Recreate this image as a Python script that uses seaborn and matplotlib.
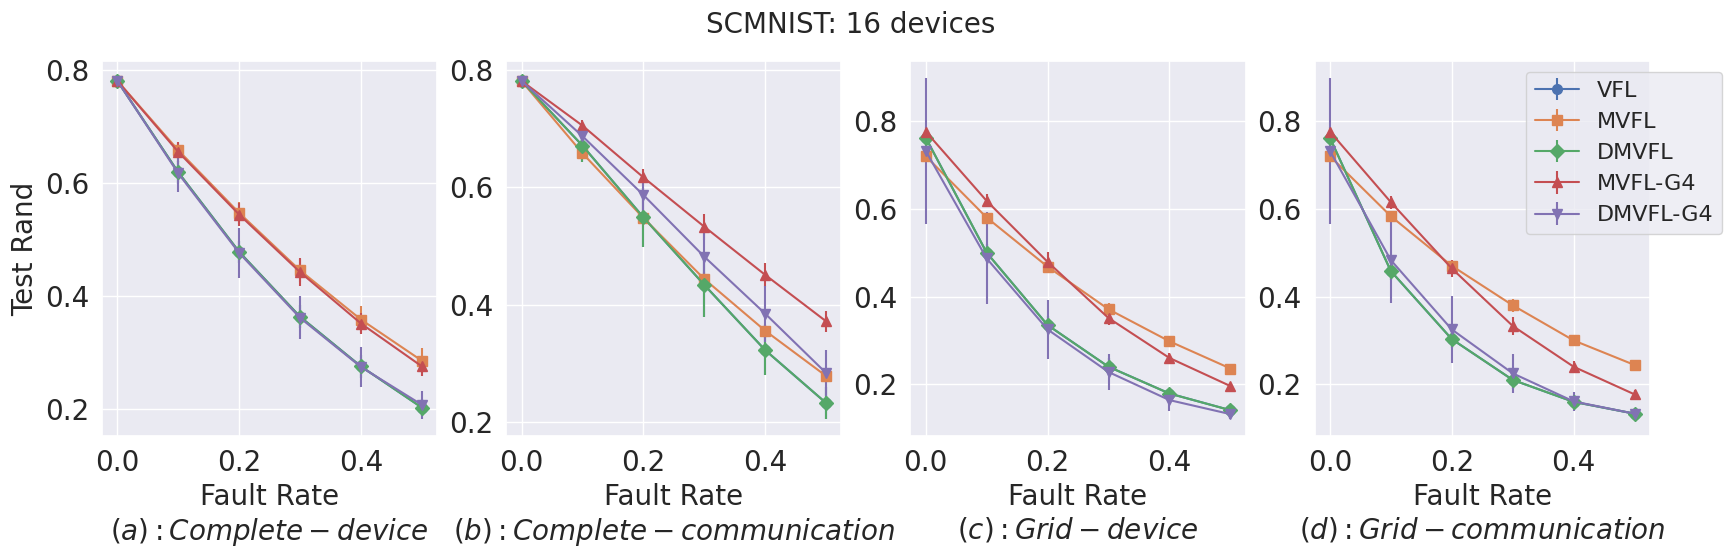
import numpy as np
import pandas as pd
import seaborn as sns
import matplotlib.pyplot as plt

# fault rates on the x axis
fault_rate = [0.0, 0.1, 0.2, 0.3, 0.4, 0.5]
methods = ["VFL", "MVFL", "DMVFL", "MVFL-G4", "DMVFL-G4"]
markers = ["o", "s", "D", "^", "v"]
panel_names = ["$(a): Complete-device$", "$(b): Complete-communication$",
               "$(c): Grid-device$", "$(d): Grid-communication$"]

# (a) complete - device
a_vfl = [0.781, 0.619, 0.478, 0.363, 0.275, 0.202]
a_vfl_err = [0.005, 0.02, 0.02, 0.02, 0.02, 0.015]
a_mvfl = [0.781, 0.658, 0.547, 0.445, 0.358, 0.285]
a_mvfl_err = [0.005, 0.012, 0.02, 0.02, 0.024, 0.022]
a_dmvfl = [0.781, 0.619, 0.478, 0.363, 0.275, 0.202]
a_dmvfl_err = [0.005, 0.02, 0.02, 0.02, 0.02, 0.015]
a_mvfl_g4 = [0.781, 0.655, 0.544, 0.442, 0.351, 0.275]
a_mvfl_g4_err = [0.005, 0.017, 0.021, 0.025, 0.019, 0.017]
a_dmvfl_g4 = [0.781, 0.617, 0.476, 0.361, 0.274, 0.207]
a_dmvfl_g4_err = [0.005, 0.033, 0.045, 0.038, 0.035, 0.025]

# (b) complete - communication
b_vfl = [0.781, 0.671, 0.549, 0.434, 0.323, 0.233]
b_vfl_err = [0.005, 0.028, 0.05, 0.055, 0.042, 0.027]
b_mvfl = [0.781, 0.658, 0.548, 0.444, 0.356, 0.279]
b_mvfl_err = [0.005, 0.01, 0.01, 0.012, 0.012, 0.012]
b_dmvfl = [0.781, 0.671, 0.549, 0.434, 0.323, 0.233]
b_dmvfl_err = [0.005, 0.028, 0.05, 0.055, 0.042, 0.027]
b_mvfl_g4 = [0.781, 0.705, 0.617, 0.533, 0.451, 0.372]
b_mvfl_g4_err = [0.004, 0.01, 0.014, 0.022, 0.02, 0.018]
b_dmvfl_g4 = [0.781, 0.687, 0.587, 0.482, 0.385, 0.284]
b_dmvfl_g4_err = [0.005, 0.012, 0.028, 0.04, 0.048, 0.039]

# (c) grid - device
c_vfl = [0.762, 0.500, 0.335, 0.240, 0.179, 0.141]
c_vfl_err = [0.01, 0.02, 0.02, 0.02, 0.01, 0.008]
c_mvfl = [0.720, 0.580, 0.468, 0.371, 0.298, 0.236]
c_mvfl_err = [0.01, 0.01, 0.012, 0.015, 0.01, 0.008]
c_dmvfl = [0.762, 0.500, 0.335, 0.240, 0.179, 0.141]
c_dmvfl_err = [0.01, 0.02, 0.02, 0.02, 0.01, 0.008]
c_mvfl_g4 = [0.776, 0.618, 0.479, 0.351, 0.260, 0.196]
c_mvfl_g4_err = [0.01, 0.015, 0.022, 0.015, 0.012, 0.008]
c_dmvfl_g4 = [0.732, 0.487, 0.325, 0.228, 0.164, 0.132]
c_dmvfl_g4_err = [0.166, 0.105, 0.068, 0.04, 0.025, 0.011]

# (d) grid - communication
d_vfl = [0.762, 0.458, 0.303, 0.210, 0.160, 0.133]
d_vfl_err = [0.01, 0.02, 0.02, 0.02, 0.012, 0.008]
d_mvfl = [0.720, 0.583, 0.470, 0.380, 0.300, 0.244]
d_mvfl_err = [0.01, 0.01, 0.012, 0.015, 0.01, 0.01]
d_dmvfl = [0.762, 0.458, 0.303, 0.210, 0.160, 0.133]
d_dmvfl_err = [0.01, 0.02, 0.02, 0.02, 0.012, 0.008]
d_mvfl_g4 = [0.776, 0.615, 0.464, 0.333, 0.240, 0.177]
d_mvfl_g4_err = [0.01, 0.015, 0.02, 0.02, 0.012, 0.01]
d_dmvfl_g4 = [0.732, 0.483, 0.325, 0.225, 0.161, 0.133]
d_dmvfl_g4_err = [0.166, 0.097, 0.076, 0.045, 0.022, 0.012]

panels = [
    ([a_vfl, a_mvfl, a_dmvfl, a_mvfl_g4, a_dmvfl_g4],
     [a_vfl_err, a_mvfl_err, a_dmvfl_err, a_mvfl_g4_err, a_dmvfl_g4_err]),
    ([b_vfl, b_mvfl, b_dmvfl, b_mvfl_g4, b_dmvfl_g4],
     [b_vfl_err, b_mvfl_err, b_dmvfl_err, b_mvfl_g4_err, b_dmvfl_g4_err]),
    ([c_vfl, c_mvfl, c_dmvfl, c_mvfl_g4, c_dmvfl_g4],
     [c_vfl_err, c_mvfl_err, c_dmvfl_err, c_mvfl_g4_err, c_dmvfl_g4_err]),
    ([d_vfl, d_mvfl, d_dmvfl, d_mvfl_g4, d_dmvfl_g4],
     [d_vfl_err, d_mvfl_err, d_dmvfl_err, d_mvfl_g4_err, d_dmvfl_g4_err]),
]

sns.set_theme(style="darkgrid")
palette = sns.color_palette("deep")

fig, axes = plt.subplots(1, 4, figsize=(17.33, 5.59), dpi=100)
fig.subplots_adjust(left=0.0589, right=0.952, bottom=0.22, top=0.891, wspace=0.206)

for i, ax in enumerate(axes):
    vals, errs = panels[i]
    for j, name in enumerate(methods):
        ax.errorbar(fault_rate, vals[j], yerr=errs[j], color=palette[j],
                    marker=markers[j], markersize=7, linewidth=1.5,
                    elinewidth=1.5, capsize=0, label=name)
    ax.set_xticks([0.0, 0.2, 0.4])
    ax.yaxis.set_major_locator(plt.MultipleLocator(0.2))
    ax.tick_params(labelsize=20)
    ax.set_xlabel("Fault Rate\n" + panel_names[i], fontsize=20)

axes[0].set_ylabel("Test Rand", fontsize=20)
axes[3].legend(loc="upper right", bbox_to_anchor=(1.25, 1.0), fontsize=16)
fig.suptitle("SCMNIST: 16 devices", fontsize=20, x=0.491)

plt.savefig("out.png", dpi=100)
